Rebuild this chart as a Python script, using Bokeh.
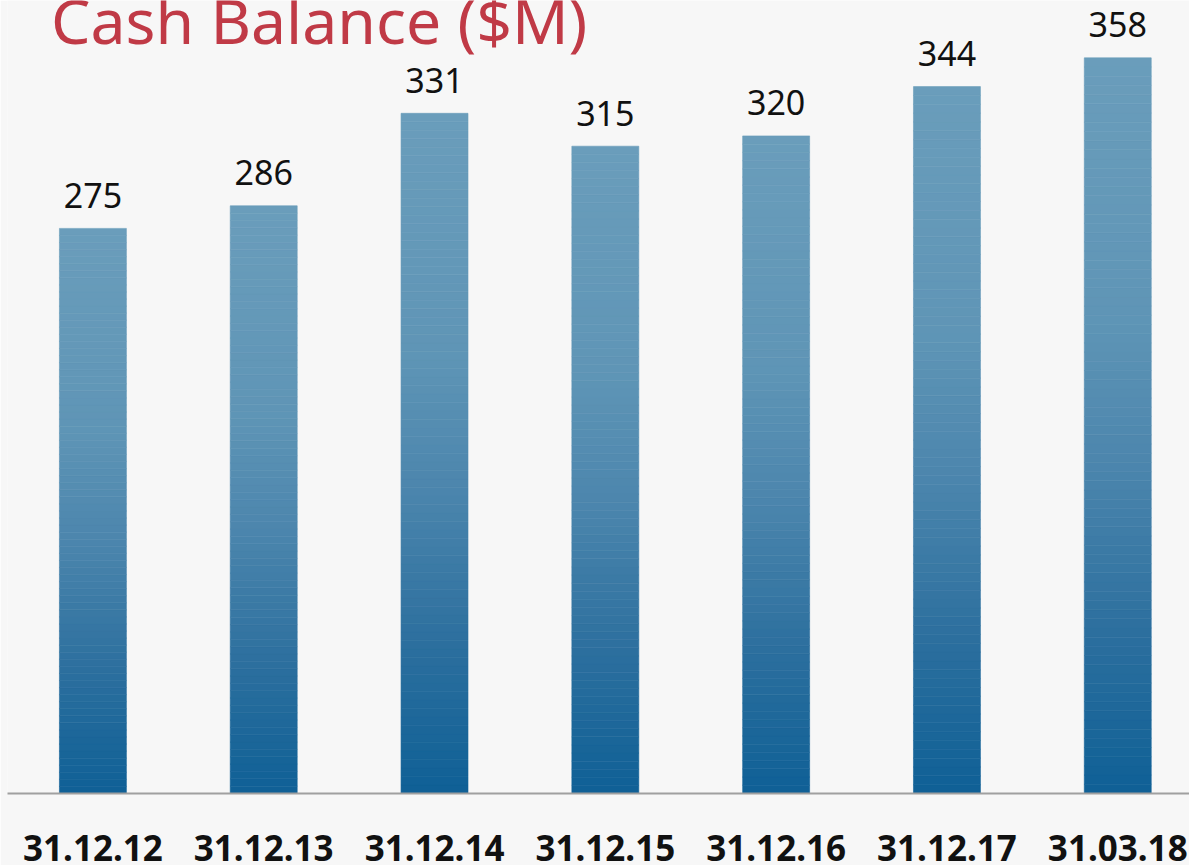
from bokeh.plotting import figure
from bokeh.models import Range1d, Label, FixedTicker
from bokeh.core.properties import value
from bokeh.embed import file_html
from bokeh.resources import INLINE

# ---- data ----
dates = ["31.12.12", "31.12.13", "31.12.14", "31.12.15", "31.12.16", "31.12.17", "31.03.18"]
cash = [275, 286, 331, 315, 320, 344, 358]
title_text = "Cash Balance ($M)"

# gradient stops (fraction from top of bar, colour)
grad_stops = [(0.0, (0x6a, 0x9d, 0xbb)), (0.35, (0x5f, 0x95, 0xb6)), (0.55, (0x4c, 0x86, 0xad)),
              (0.78, (0x2c, 0x6f, 0x9e)), (1.0, (0x0f, 0x60, 0x96))]

def grad_color(t):
    for (t0, c0), (t1, c1) in zip(grad_stops[:-1], grad_stops[1:]):
        if t0 <= t <= t1:
            f = (t - t0) / (t1 - t0) if t1 > t0 else 0
            c = [round(a + (b - a) * f) for a, b in zip(c0, c1)]
            return "#%02x%02x%02x" % tuple(c)
    return "#%02x%02x%02x" % grad_stops[-1][1]

BG = "#f7f7f7"
W, H = 1189, 865
p = figure(width=W, height=H, output_backend="svg", toolbar_location=None,
           x_range=Range1d(-0.5, 6.42), y_range=Range1d(0, 385.9),
           min_border_left=7, min_border_right=0, min_border_top=0, min_border_bottom=72,
           background_fill_color=BG, border_fill_color=BG, outline_line_color=None)

# gradient bars: stacked thin slices
N = 80
xs, bottoms, tops, cols = [], [], [], []
for i, v in enumerate(cash):
    for k in range(N):
        b = v * k / N
        t = v * (k + 1) / N
        frac_from_top = 1 - (k + 0.5) / N
        xs.append(i)
        bottoms.append(b)
        tops.append(t)
        cols.append(grad_color(frac_from_top))
p.vbar(x=xs, bottom=bottoms, top=tops, width=0.392, fill_color=cols, line_color=cols, line_width=0.6)

# value labels
p.text(x=list(range(len(cash))), y=cash, text=[str(v) for v in cash], y_offset=-33,
       text_align="center", text_baseline="alphabetic", text_font=value("Noto Sans"),
       text_font_size="34px", text_color="#111111")

# title (cropped at top like the reference)
p.add_layout(Label(x=-0.245, y=376.6, text=title_text, text_font="Noto Sans", text_font_size="62.5px",
                   text_color="#c03a46", text_baseline="alphabetic", text_align="left"))

p.xgrid.visible = False
p.ygrid.visible = False
p.yaxis.visible = False
ax = p.xaxis[0]
ax.ticker = FixedTicker(ticks=list(range(len(dates))))
ax.major_label_overrides = {i: d for i, d in enumerate(dates)}
ax.major_tick_line_color = None
ax.minor_tick_line_color = None
ax.axis_line_color = "#a0a0a0"
ax.axis_line_width = 2
ax.major_label_text_font = "Noto Sans"
ax.major_label_text_font_style = "bold"
ax.major_label_text_font_size = "35px"
ax.major_label_text_color = "#111111"
ax.major_label_standoff = 35

open("out.html", "w").write(file_html(p, INLINE))
